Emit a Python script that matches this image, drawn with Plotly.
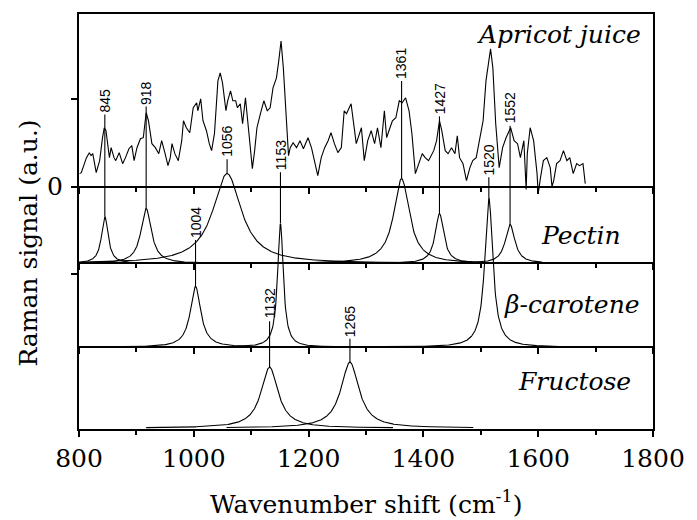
import numpy as np
import plotly.graph_objects as go

# ---------------- data ----------------
# Apricot juice Raman spectrum (wavenumber in cm-1, intensity in a.u.)
apricot_wn = [801, 804, 813, 818, 821, 824, 830, 836, 841, 844, 847, 853, 856, 861, 864, 870, 876, 881, 887, 892,
              896, 901, 907, 912, 917, 921, 927, 933, 939, 944, 950, 955, 959, 962, 967, 973, 979, 982, 987, 993,
              999, 1005, 1007, 1012, 1016, 1022, 1027, 1031, 1036, 1042, 1046, 1050, 1056, 1059, 1064, 1068, 1073,
              1076, 1081, 1085, 1090, 1094, 1099, 1102, 1106, 1110, 1116, 1122, 1128, 1133, 1138, 1144, 1148, 1152,
              1156, 1162, 1165, 1168, 1173, 1179, 1185, 1191, 1199, 1205, 1211, 1216, 1222, 1228, 1234, 1239, 1245,
              1251, 1257, 1262, 1266, 1274, 1283, 1292, 1297, 1303, 1309, 1315, 1320, 1326, 1332, 1336, 1340, 1346,
              1352, 1358, 1363, 1369, 1375, 1380, 1386, 1392, 1398, 1403, 1409, 1418, 1423, 1428, 1432, 1438, 1443,
              1449, 1455, 1459, 1463, 1469, 1475, 1481, 1486, 1492, 1498, 1504, 1509, 1513, 1517, 1521, 1526, 1532,
              1538, 1544, 1549, 1552, 1558, 1564, 1569, 1575, 1579, 1581, 1586, 1592, 1598, 1600, 1604, 1609, 1615,
              1621, 1624, 1627, 1632, 1638, 1644, 1650, 1655, 1661, 1667, 1672, 1678, 1682]
apricot_int = [13, 14, 29, 34, 31, 33, 14, 26, 49, 59, 56, 29, 39, 29, 26, 34, 23, 29, 38, 41,
               26, 39, 48, 49, 74, 66, 43, 39, 33, 46, 33, 21, 29, 43, 33, 26, 46, 66, 59, 54,
               79, 84, 76, 88, 66, 56, 43, 36, 53, 106, 114, 104, 76, 86, 96, 86, 86,
               79, 83, 63, 89, 63, 39, 18, 36, 59, 73, 86, 76, 79, 99, 109, 126, 146,
               119, 59, 31, 39, 44, 39, 46, 38, 49, 39, 23, 11, 29, 39, 46, 54, 43,
               34, 39, 76, 73, 83, 43, 59, 26, 46, 56, 43, 59, 39, 76, 49, 56, 66,
               69, 86, 84, 89, 76, 53, 13, 23, 33, 29, 26, 36, 46, 66, 56, 36, 33,
               39, 33, 51, 29, 23, 6, 19, 26, 29, 46, 66, 106, 123, 138, 119, 63, 19,
               39, 49, 56, 59, 46, 43, 29, 46, -3, 33, 59, 46, 13, -7, 9, 26, 29,
               19, 0, 6, 23, 26, 36, 26, 29, 13, 23, 21, 23, 3]

# Fitted bands (centre in cm-1, height in a.u., FWHM in cm-1)
pectin_center = [845, 917, 1058, 1362, 1428, 1551]
pectin_height = [47, 55, 90, 85, 50, 39]
pectin_fwhm = [14, 22, 60, 33, 18, 20]

carotene_center = [1003, 1151, 1514]
carotene_height = [61, 124, 150]
carotene_fwhm = [22, 12, 17]

fructose_center = [1132, 1272]
fructose_height = [61, 66]
fructose_fwhm = [36, 38]

# Peak labels: text, component they point to, index of the band in that component
label_text = ["845", "918", "1056", "1153", "1361", "1427", "1552", "1520", "1004", "1132", "1265"]
label_comp = ["pectin", "pectin", "pectin", "carotene", "pectin", "pectin", "pectin",
              "carotene", "carotene", "fructose", "fructose"]
label_band = [0, 1, 2, 1, 3, 4, 5, 2, 0, 0, 1]

panel_names = ["Apricot juice", "Pectin", "β-carotene", "Fructose"]

# ---------------- layout constants ----------------
Y_MIN, Y_MAX = -243, 173
OFFSET = {"apricot": 0, "pectin": -77, "carotene": -161, "fructose": -242}
LABEL_Y = [86, 94, 45, 32, 123.5, 88, 78.5, 27, -36, -117.5, -135]   # label centres (shared axis)
PANEL_LABEL_POS = [(1636, 152.5), (1675, -49.5), (1659, -118), (1664, -195)]
SERIF = "DejaVu Serif"
SANS = "Liberation Sans, Arial, sans-serif"
BIG = 25

COMP = {
    "pectin": (pectin_center, pectin_height, pectin_fwhm),
    "carotene": (carotene_center, carotene_height, carotene_fwhm),
    "fructose": (fructose_center, fructose_height, fructose_fwhm),
}
SPAN = {"pectin": 330, "carotene": 330, "fructose": 215}


def lorentz(x, c, h, w):
    return h / (1.0 + ((x - c) / (w / 2.0)) ** 2)


fig = go.Figure()
LINE = dict(color="black", width=1.1)

# apricot spectrum
fig.add_trace(go.Scatter(x=apricot_wn, y=[v + OFFSET["apricot"] for v in apricot_int],
                         mode="lines", line=LINE, showlegend=False, hoverinfo="skip"))

# fitted bands, each band its own curve
for name, (cs, hs, ws) in COMP.items():
    for c, h, w in zip(cs, hs, ws):
        xx = np.linspace(max(800, c - SPAN[name]), min(1700, c + SPAN[name]), 700)
        fig.add_trace(go.Scatter(x=xx, y=lorentz(xx, c, h, w) + OFFSET[name], mode="lines",
                                 line=LINE, showlegend=False, hoverinfo="skip"))

# peak marker lines and rotated labels
lx, ly = [], []
for txt, comp, bi, yl in zip(label_text, label_comp, label_band, LABEL_Y):
    cs, hs, ws = COMP[comp]
    c = cs[bi]
    top = OFFSET[comp] + hs[bi]
    line_top = yl - 0.556 * 14 * len(txt) / 2 - 2
    lx += [c, c, None]
    ly += [line_top, top, None]
    fig.add_annotation(x=c, y=yl, xref="x", yref="y", text=txt, textangle=-90, showarrow=False,
                       xanchor="center", yanchor="middle",
                       font=dict(family=SANS, size=14, color="black"))
fig.add_trace(go.Scatter(x=lx, y=ly, mode="lines", line=dict(color="black", width=1.1),
                         showlegend=False, hoverinfo="skip"))

# panel names
for name, (px, py) in zip(panel_names, PANEL_LABEL_POS):
    fig.add_annotation(x=px, y=py, xref="x", yref="y", text="<i>" + name + "</i>", showarrow=False,
                       xanchor="center", yanchor="middle",
                       font=dict(family=SERIF, size=BIG, color="black"))

# separator axes (each panel's bottom axis with downward ticks)
for i, key in enumerate(["apricot", "pectin", "carotene"], start=2):
    fig.add_trace(go.Scatter(x=[None], y=[None], xaxis=f"x{i}", yaxis="y", showlegend=False,
                             hoverinfo="skip"))
    pos = (OFFSET[key] - Y_MIN) / (Y_MAX - Y_MIN)
    fig.layout[f"xaxis{i}"] = dict(overlaying="x", anchor="free", position=pos, range=[800, 1800],
                                   showline=True, linecolor="black", linewidth=2,
                                   ticks="outside", ticklen=6, tickwidth=1.5, tickcolor="black",
                                   tick0=800, dtick=200, showticklabels=False, showgrid=False,
                                   zeroline=False,
                                   minor=dict(ticks="outside", dtick=100, ticklen=4, tickwidth=1.5,
                                              tickcolor="black"))

fig.update_layout(
    width=697, height=520,
    margin=dict(l=79, r=35, t=13, b=91),
    paper_bgcolor="white", plot_bgcolor="white",
    xaxis=dict(range=[800, 1800], tick0=800, dtick=200, ticks="outside", ticklen=6, tickwidth=1.5,
               tickcolor="black", showline=True, linecolor="black", linewidth=2, mirror=True,
               showgrid=False, zeroline=False, ticklabelstandoff=0,
               tickfont=dict(family=SERIF, size=BIG, color="black"),
               minor=dict(ticks="outside", dtick=100, ticklen=4, tickwidth=1.5, tickcolor="black")),
    yaxis=dict(range=[Y_MIN, Y_MAX], tickmode="array", tickvals=[0], ticktext=["0"],
               ticks="outside", ticklen=6, tickwidth=1.5, tickcolor="black",
               showline=True, linecolor="black", linewidth=2, mirror=True, showgrid=False,
               zeroline=False, ticklabelstandoff=3,
               tickfont=dict(family=SERIF, size=BIG, color="black"),
               minor=dict(tickmode="array", tickvals=[-87.5, 87.5], ticks="outside", ticklen=6,
                          tickwidth=1.5, tickcolor="black", showgrid=False)),
)

# axis titles
fig.add_annotation(x=0.5, y=-0.178, xref="paper", yref="paper",
                   text="Wavenumber shift (cm<sup>-1</sup>)", showarrow=False,
                   xanchor="center", yanchor="middle", font=dict(family=SERIF, size=BIG, color="black"))
fig.add_annotation(x=-0.088, y=0.448, xref="paper", yref="paper", text="Raman signal (a.u.)",
                   textangle=-90, showarrow=False, xanchor="center", yanchor="middle",
                   font=dict(family=SERIF, size=BIG, color="black"))

fig.write_html("out.html")
